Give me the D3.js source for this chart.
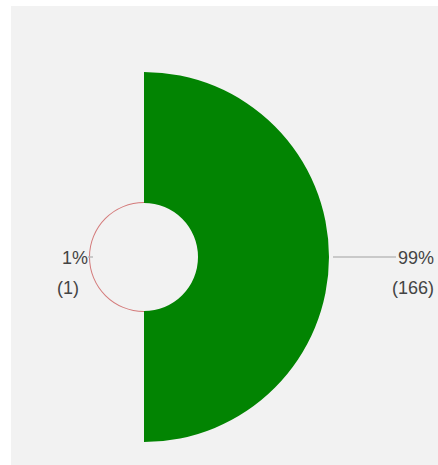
<!DOCTYPE html>
<html><head><meta charset="utf-8">
<script src="https://cdn.jsdelivr.net/npm/d3@7"></script>
<style>body{margin:0;background:#fff;}svg{display:block;}</style>
</head><body>
<svg id="c" width="438" height="465"></svg>
<script>
const categories = ["B", "A"];
const values = [166, 1];
const percentLabels = ["99%", "1%"];
const countLabels = ["(166)", "(1)"];
const colors = ["#028402", "#c84848"];

const svg = d3.select("#c");
svg.append("rect").attr("x", 11).attr("y", 6).attr("width", 427).attr("height", 459).attr("fill", "#f2f2f2");

const cx = 144, cy = 257, inner = 54, outer = 185;
const r = d3.scaleLinear().domain([0, d3.max(values)]).range([inner, outer]);
const n = values.length;
const step = 2 * Math.PI / n;
const g = svg.append("g").attr("transform", `translate(${cx},${cy})`);
const arc = d3.arc();

g.selectAll("path").data(values).join("path")
  .attr("d", (v, i) => arc({innerRadius: inner, outerRadius: Math.max(r(v), inner + 1), startAngle: i * step, endAngle: (i + 1) * step}))
  .attr("fill", (v, i) => colors[i])
  .attr("fill-opacity", (v, i) => i === 1 ? 0.7 : 1);

// labels
const fs = 18;
const labelPos = [
  {line: [189, 252], tx: 434, ty: 264, cy2: 294},
  {line: [-56, -51], tx: 88, ty: 264, cy2: 294, cx2: 79}
];
values.forEach((v, i) => {
  const p = labelPos[i];
  g.append("line").attr("x1", p.line[0]).attr("x2", p.line[1]).attr("y1", 0).attr("y2", 0)
    .attr("stroke", "#bbbbbb").attr("stroke-width", 1.5);
  svg.append("text").attr("x", p.tx).attr("y", p.ty).attr("text-anchor", "end")
    .attr("font-family", "Liberation Sans, Arial, sans-serif").attr("font-size", fs).attr("fill", "#444")
    .text(percentLabels[i]);
  svg.append("text").attr("x", p.cx2 || p.tx).attr("y", p.cy2).attr("text-anchor", "end")
    .attr("font-family", "Liberation Sans, Arial, sans-serif").attr("font-size", fs).attr("fill", "#444")
    .text(countLabels[i]);
});
</script>
</body></html>
